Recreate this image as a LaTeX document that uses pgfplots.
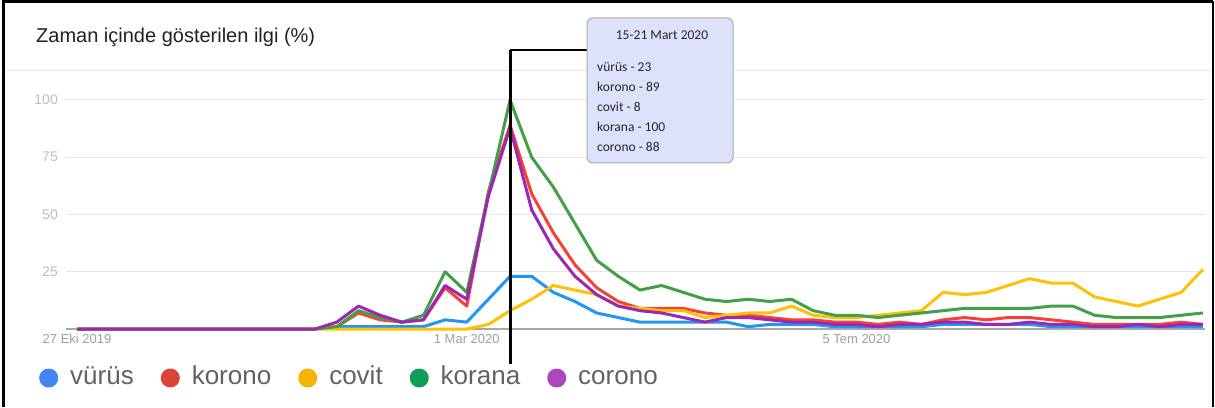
\documentclass[border=0pt]{standalone}
\usepackage{pgfplots}
\pgfplotsset{compat=1.18}
\usepackage{pgfplotstable}
\usepackage{fontspec}
\setmainfont{Liberation Sans}
\newfontfamily\tipfont{Carlito}

\definecolor{lblue}{HTML}{2196F3}
\definecolor{lred}{HTML}{F44336}
\definecolor{lyellow}{HTML}{FFC107}
\definecolor{lgreen}{HTML}{43A047}
\definecolor{lpurple}{HTML}{9C27B0}
\definecolor{gblue}{HTML}{4285F4}
\definecolor{gred}{HTML}{DB4437}
\definecolor{gyellow}{HTML}{F4B400}
\definecolor{ggreen}{HTML}{0F9D58}
\definecolor{gpurple}{HTML}{AB47BC}
\definecolor{gridc}{HTML}{E6E6E6}
\definecolor{basec}{HTML}{A8A8A8}
\definecolor{ytickc}{HTML}{BDBDBD}
\definecolor{xtickc}{HTML}{9E9E9E}
\definecolor{legtext}{HTML}{5F6368}
\definecolor{titlec}{HTML}{212121}
\definecolor{tipfill}{HTML}{DCE2FA}
\definecolor{tipborder}{HTML}{A8AAB8}

\pgfplotstableread{
w vu ko cv ka co
0 0 0 0 0 0
1 0 0 0 0 0
2 0 0 0 0 0
3 0 0 0 0 0
4 0 0 0 0 0
5 0 0 0 0 0
6 0 0 0 0 0
7 0 0 0 0 0
8 0 0 0 0 0
9 0 0 0 0 0
10 0 0 0 0 0
11 0 0 0 0 0
12 1 1 0 1 3
13 1 7 0 8 10
14 1 4 0 5 6
15 1 3 0 3 3
16 1 4 0 6 4
17 4 18 0 25 19
18 3 10 0 16 13
19 13 60 2 59 58
20 23 89 8 100 88
21 23 59 13 75 52
22 16 42 19 62 35
23 12 28 17 46 23
24 7 18 15 30 15
25 5 12 10 23 10
26 3 9 9 17 8
27 3 9 8 19 7
28 3 9 8 16 5
29 3 7 5 13 3
30 3 6 6 12 5
31 1 6 7 13 5
32 2 5 7 12 4
33 2 4 10 13 3
34 2 4 6 8 3
35 1 3 5 6 2
36 1 3 5 6 2
37 1 2 6 5 1
38 1 3 7 6 2
39 1 2 8 7 2
40 2 4 16 8 3
41 2 5 15 9 3
42 2 4 16 9 2
43 2 5 19 9 2
44 2 5 22 9 3
45 1 4 20 10 2
46 1 3 20 10 2
47 1 2 14 6 1
48 1 2 12 5 1
49 1 2 10 5 2
50 1 2 13 5 1
51 1 3 16 6 2
52 1 2 26 7 2
}\trends

\begin{document}
\begin{tikzpicture}
\useasboundingbox (0pt,0pt) rectangle (1215pt,407pt);
% frame
\draw[black, line width=3pt] (3pt,0pt) -- (3pt,405.5pt) -- (1213pt,405.5pt);
\draw[black, line width=2pt] (1213pt,405.5pt) -- (1213pt,0pt);
% title and separator
\node[anchor=base west, inner sep=0pt, text=titlec, font=\fontsize{20}{24}\selectfont] at (36pt,364pt) {Zaman içinde gösterilen ilgi (\%)};
\draw[gridc, line width=1pt] (4.5pt,336.5pt) -- (1212pt,336.5pt);

\begin{axis}[
  at={(66pt,78pt)}, anchor=south west,
  scale only axis, width=1139pt, height=229pt,
  xmin=-0.51, xmax=52.1, ymin=0, ymax=100,
  clip=false,
  axis line style={draw=none},
  tick style={draw=none},
  major tick length=0pt,
  ymajorgrids,
  grid style={gridc, line width=1pt},
  ytick={25,50,75,100},
  extra y ticks={0},
  extra y tick labels={},
  extra y tick style={grid style={basec, line width=1.2pt}},
  xtick={0,18,36},
  xticklabels={27 Eki 2019, 1 Mar 2020, 5 Tem 2020},
  /pgf/number format/assume math mode=true,
  yticklabel style={anchor=east, inner sep=0pt, xshift=-8pt, text=ytickc, font=\fontsize{14}{16}\selectfont},
  xticklabel style={anchor=north, inner sep=0pt, yshift=-5pt, text=xtickc, font=\fontsize{13}{15}\selectfont},
  legend columns=-1,
  legend cell align=left,
  legend style={at={(axis description cs:-0.0237,-0.214)}, anchor=west, draw=none, fill=none, inner sep=0pt,
    font=\fontsize{26}{30}\selectfont, text=legtext,
    nodes={inner sep=0pt, text height=19pt, text depth=6pt},
    /tikz/every odd column/.append style={column sep=12pt},
    /tikz/every even column/.append style={column sep=27pt}},
  every axis plot/.append style={line width=3pt, line join=round, no markers},
]
\addplot[lblue, legend image code/.code={\fill[gblue] (8pt,0pt) circle (8pt);}] table[x=w, y=vu] {\trends};
\addlegendentry{vürüs}
\addplot[lred, legend image code/.code={\fill[gred] (8pt,0pt) circle (8pt);}] table[x=w, y=ko] {\trends};
\addlegendentry{korono}
\addplot[lyellow, legend image code/.code={\fill[gyellow] (8pt,0pt) circle (8pt);}] table[x=w, y=cv] {\trends};
\addlegendentry{covit}
\addplot[lgreen, legend image code/.code={\fill[ggreen] (8pt,0pt) circle (8pt);}] table[x=w, y=ka] {\trends};
\addlegendentry{korana}
\addplot[lpurple, legend image code/.code={\fill[gpurple] (8pt,0pt) circle (8pt);}] table[x=w, y=co] {\trends};
\addlegendentry{corono}
\end{axis}

% hover line and tooltip
\draw[black, line width=3pt] (510pt,357pt) -- (510pt,43pt);
\draw[black, line width=1.5pt] (510pt,357pt) -- (588pt,357pt);
\draw[fill=tipfill, draw=tipborder, line width=1pt, rounded corners=6pt] (587pt,389pt) rectangle (733pt,244pt);
\begin{scope}[every node/.style={inner sep=0pt, text=black!85, font=\tipfont\fontsize{13.5}{16}\selectfont}]
\node[anchor=center] at (662pt,372pt) {15-21 Mart 2020};
\node[anchor=west] at (597pt,340pt) {vürüs - 23};
\node[anchor=west] at (597pt,320pt) {korono - 89};
\node[anchor=west] at (597pt,300pt) {covit - 8};
\node[anchor=west] at (597pt,280pt) {korana - 100};
\node[anchor=west] at (597pt,260pt) {corono - 88};
\end{scope}
\end{tikzpicture}
\end{document}
